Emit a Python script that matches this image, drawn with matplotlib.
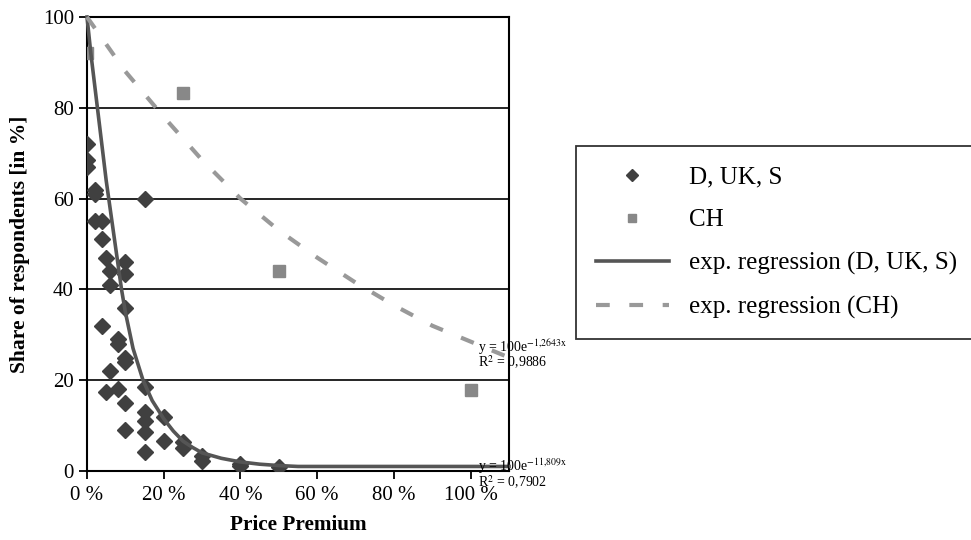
import matplotlib
matplotlib.use("Agg")
import matplotlib.pyplot as plt
from matplotlib.ticker import FuncFormatter

plt.rcParams['font.family'] = ['Liberation Serif', 'DejaVu Serif']
plt.rcParams['mathtext.fontset'] = 'stix'

# D, UK, S survey points (price premium as fraction, share in %)
dus_x = [0, 0, 0, 0.02, 0.02, 0.15, 0.02, 0.04, 0.04, 0.05, 0.10, 0.06, 0.10,
         0.06, 0.10, 0.04, 0.08, 0.08, 0.10, 0.10, 0.06, 0.15, 0.05, 0.08,
         0.10, 0.15, 0.15, 0.20, 0.10, 0.15, 0.20, 0.25, 0.25, 0.15, 0.30,
         0.30, 0.40, 0.40, 0.50]
dus_y = [72, 68.5, 67, 62, 61, 60, 55, 55, 51, 47, 46, 44, 43.5,
         41, 36, 32, 29, 28, 25, 24, 22, 18.5, 17.5, 18,
         15, 13, 11, 12, 9, 8.5, 6.7, 6.3, 5, 4.2, 3.2,
         2.3, 1.5, 1.0, 0.9]

# CH survey points
ch_x = [0, 0.25, 0.50, 1.00]
ch_y = [92, 83.3, 44, 17.8]

# regression curves
reg_dus_x = [0, 0.01, 0.02, 0.03, 0.04, 0.05, 0.06, 0.07, 0.08, 0.09, 0.10,
             0.12, 0.146, 0.17, 0.20, 0.225, 0.25, 0.275, 0.30, 0.35, 0.40,
             0.45, 0.50, 0.55, 1.10]
reg_dus_y = [100, 92, 85, 78, 71, 64, 58, 52, 46, 40, 35,
             27, 20, 15.5, 11.5, 8.8, 6.6, 5.2, 4.0, 2.8, 2.0,
             1.5, 1.2, 1.0, 1.0]
reg_ch_x = [0, 0.1, 0.2, 0.3, 0.4, 0.5, 0.6, 0.7, 0.8, 0.9, 1.0, 1.1]
reg_ch_y = [100, 88, 78, 68.5, 60, 53, 47, 41.5, 36.5, 32, 28.5, 25]

fig = plt.figure(figsize=(9.71, 5.4), dpi=100)
ax = fig.add_axes([87/971, 1 - 471/540, 422/971, 454/540])

ax.plot(dus_x, dus_y, linestyle='none', marker='D', ms=7.8, color='#404040',
        label='D, UK, S', zorder=4)
ax.plot(ch_x, ch_y, linestyle='none', marker='s', ms=8.5, color='#888888',
        label='CH', zorder=4)
ax.plot(reg_dus_x, reg_dus_y, color='#555555', lw=2.6,
        label='exp. regression (D, UK, S)', zorder=5, clip_on=False)
ax.plot(reg_ch_x, reg_ch_y, color='#999999', lw=3, linestyle=(0, (3.3, 4.7)),
        label='exp. regression (CH)', zorder=5, clip_on=False)

ax.set_xlim(0, 1.1)
ax.set_ylim(0, 100)
ax.set_xticks([0, 0.2, 0.4, 0.6, 0.8, 1.0])
ax.set_yticks([0, 20, 40, 60, 80, 100])
ax.xaxis.set_major_formatter(FuncFormatter(lambda v, p: f"{v*100:.0f} %"))
ax.tick_params(axis='both', direction='out', length=6, width=1.3,
               labelsize=15, colors='black')
ax.tick_params(axis='x', pad=5)
ax.grid(axis='y', color='black', lw=1.2)
ax.set_axisbelow(True)
for s in ax.spines.values():
    s.set_linewidth(1.5)
    s.set_color('black')

ax.set_xlabel("Price Premium", fontsize=15.3, fontweight='bold', labelpad=7)
ax.set_ylabel("Share of respondents [in %]", fontsize=15.5, fontweight='bold',
              labelpad=9)

ax.text(1.02, 27.3, r"y = 100e$^{\mathrm{-1{,}2643x}}$", fontsize=10,
        va='center', zorder=6)
ax.text(1.02, 24.0, r"R$^{\mathrm{2}}$ = 0,9886", fontsize=10, va='center',
        zorder=6)
ax.text(1.02, 1.1, r"y = 100e$^{\mathrm{-11{,}809x}}$", fontsize=10,
        va='center', zorder=6)
ax.text(1.02, -2.4, r"R$^{\mathrm{2}}$ = 0,7902", fontsize=10, va='center',
        zorder=6)

leg = ax.legend(loc='upper left',
                bbox_to_anchor=(576/971, 1 - 146/540, 405/971, 0),
                bbox_transform=fig.transFigure, mode='expand',
                fontsize=18, frameon=True, fancybox=False, borderaxespad=0,
                borderpad=0.8, labelspacing=0.82, handlelength=2.9,
                handletextpad=0.8, markerscale=0.75)
leg.get_frame().set_edgecolor('black')
leg.get_frame().set_linewidth(1.3)

fig.savefig("out.png", dpi=100)
